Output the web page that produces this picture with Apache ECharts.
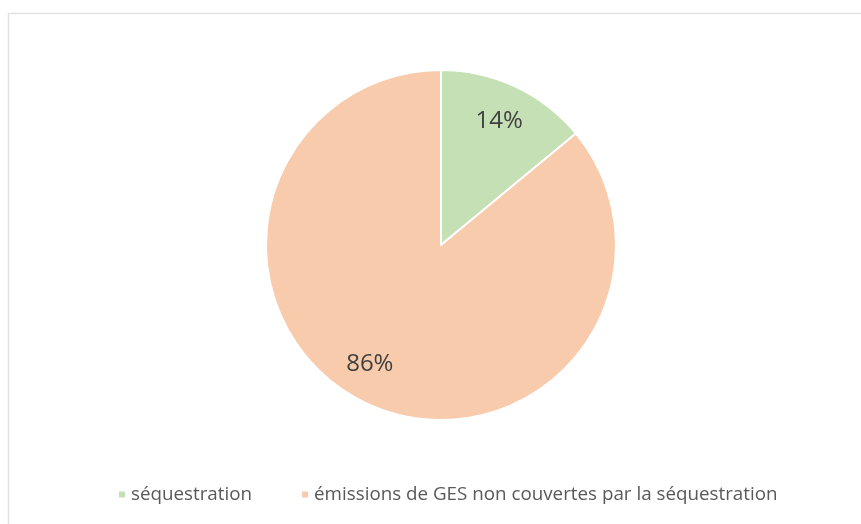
<!DOCTYPE html>
<html>
<head>
<meta charset="utf-8">
<script src="https://cdn.jsdelivr.net/npm/echarts@6/dist/echarts.min.js"></script>
<style>
  html, body { margin: 0; padding: 0; background: #fff; overflow: hidden; }
  #main { width: 861px; height: 524px; }
</style>
</head>
<body>
<div id="main"></div>
<script>
// categories and values (percent)
const categories = ['séquestration', 'émissions de GES non couvertes par la séquestration'];
const values = [14, 86];
const colors = ['#c5e0b4', '#f8cbad'];

const myChart = echarts.init(document.getElementById('main'));

const fillData = categories.map((name, i) => ({
    name: name,
    value: values[i],
    itemStyle: { color: colors[i] }
}));
// same values, transparent ring only used to place labels further out
const labelData = categories.map((name, i) => ({
    name: name,
    value: values[i],
    itemStyle: { color: 'rgba(0,0,0,0)' }
}));

const option = {
    backgroundColor: '#fff',
    animation: false,
    graphic: [{
        type: 'rect',
        shape: { x: 8.5, y: 13.5, width: 1000, height: 700 },
        style: { fill: 'none', stroke: '#e3e3e3', lineWidth: 1.5 },
        silent: true
    }],
    legend: {
        data: categories.map((name, i) => ({ name: name, itemStyle: { color: colors[i] } })),
        bottom: 15,
        left: 112,
        icon: 'rect',
        itemWidth: 8,
        itemHeight: 8,
        itemGap: 48,
        textStyle: {
            fontFamily: 'Open Sans',
            fontSize: 18.8,
            color: '#595959'
        }
    },
    series: [{
        type: 'pie',
        center: [441, 245],
        radius: [0, 175],
        startAngle: 90,
        clockwise: true,
        silent: true,
        data: fillData,
        itemStyle: { borderColor: '#fff', borderWidth: 2 },
        label: { show: false },
        labelLine: { show: false }
    }, {
        type: 'pie',
        center: [441, 245],
        radius: [97, 175],
        startAngle: 90,
        clockwise: true,
        silent: true,
        data: labelData,
        label: {
            show: true,
            position: 'inside',
            formatter: '{c}%',
            fontFamily: 'Open Sans',
            fontSize: 24,
            color: '#404040'
        },
        labelLine: { show: false },
        // the big slice's label sits a bit left of its mid-angle in the original
        labelLayout: function (params) {
            if (params.dataIndex === 1) {
                return { dx: -12, dy: -7 };
            }
            return { dx: -1, dy: 2 };
        }
    }]
};

myChart.setOption(option);
</script>
</body>
</html>
